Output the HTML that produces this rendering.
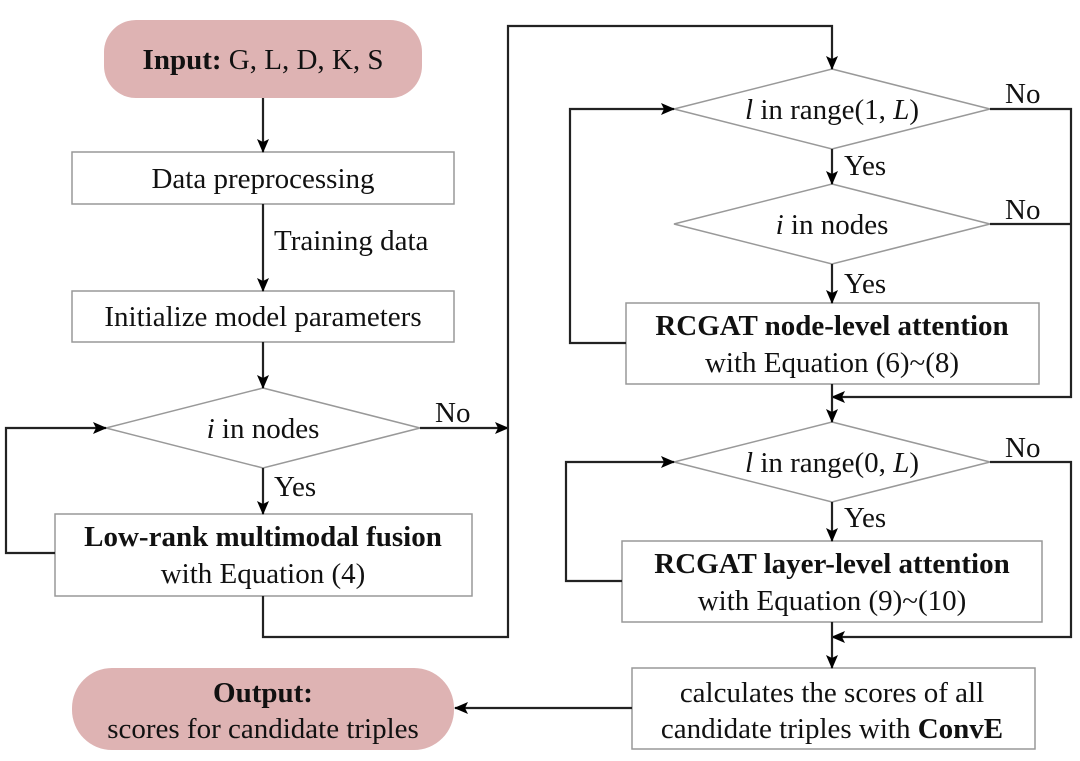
<!DOCTYPE html>
<html><head><meta charset="utf-8"><style>
html,body{margin:0;padding:0;background:#fff}
svg{display:block}
text{font-family:"Liberation Serif",serif;fill:#111}
</style></head><body>
<svg width="1080" height="761" viewBox="0 0 1080 761" xmlns="http://www.w3.org/2000/svg">
<defs>
<marker id="a" markerWidth="14" markerHeight="12" refX="13" refY="6" orient="auto" markerUnits="userSpaceOnUse">
<path d="M0,0 L14,6 L0,12 L3,6 Z" fill="#000"/>
</marker>
</defs>
<g fill="none" stroke="#999" stroke-width="1.5">
<rect x="104" y="20" width="318" height="78" rx="32" fill="#deb3b3" stroke="none"/>
<rect x="72" y="152" width="382" height="52" fill="#fff"/>
<rect x="72" y="291" width="382" height="51" fill="#fff"/>
<polygon points="263,388 420,428 263,468 106,428" fill="#fff"/>
<rect x="55" y="514" width="417" height="82" fill="#fff"/>
<rect x="72" y="668" width="382" height="82" rx="40" fill="#deb3b3" stroke="none"/>
<polygon points="832,69 990,109 832,149 674,109" fill="#fff"/>
<polygon points="832,184 990,224 832,264 674,224" fill="#fff"/>
<rect x="626" y="303" width="413" height="81" fill="#fff"/>
<polygon points="832,422 990,462 832,502 674,462" fill="#fff"/>
<rect x="622" y="541" width="420" height="81" fill="#fff"/>
<rect x="632" y="668" width="403" height="81" fill="#fff"/>
</g>
<g fill="none" stroke="#222" stroke-width="2.2">
<path d="M263,98 V152" marker-end="url(#a)"/>
<path d="M263,204 V291" marker-end="url(#a)"/>
<path d="M263,342 V388" marker-end="url(#a)"/>
<path d="M263,468 V514" marker-end="url(#a)"/>
<path d="M55,553 H6 V428 H106" marker-end="url(#a)"/>
<path d="M420,428 H508" marker-end="url(#a)"/>
<path d="M263,596 V637 H508 V26 H832 V69" marker-end="url(#a)"/>
<path d="M832,149 V184" marker-end="url(#a)"/>
<path d="M832,264 V303" marker-end="url(#a)"/>
<path d="M626,343 H570 V109 H674" marker-end="url(#a)"/>
<path d="M990,109 H1071 V397 H832" marker-end="url(#a)"/>
<path d="M990,224 H1071"/>
<path d="M832,384 V422" marker-end="url(#a)"/>
<path d="M832,502 V541" marker-end="url(#a)"/>
<path d="M622,581 H566 V462 H674" marker-end="url(#a)"/>
<path d="M990,462 H1071 V637 H832" marker-end="url(#a)"/>
<path d="M832,622 V668" marker-end="url(#a)"/>
<path d="M632,708 H455" marker-end="url(#a)"/>
</g>
<g font-size="29" text-anchor="middle">
<text x="263" y="69"><tspan font-weight="bold">Input:</tspan> G, L, D, K, S</text>
<text x="263" y="188">Data preprocessing</text>
<text x="274" y="250" text-anchor="start">Training data</text>
<text x="263" y="326">Initialize model parameters</text>
<text x="263" y="438"><tspan font-style="italic">i</tspan> in nodes</text>
<text x="435" y="422" text-anchor="start">No</text>
<text x="274" y="496" text-anchor="start">Yes</text>
<text x="263" y="546" font-weight="bold">Low-rank multimodal fusion</text>
<text x="263" y="583">with Equation (4)</text>
<text x="263" y="702" font-weight="bold">Output:</text>
<text x="263" y="738">scores for candidate triples</text>
<text x="832" y="119"><tspan font-style="italic">l</tspan> in range(1, <tspan font-style="italic">L</tspan>)</text>
<text x="1005" y="103" text-anchor="start">No</text>
<text x="844" y="175" text-anchor="start">Yes</text>
<text x="832" y="234"><tspan font-style="italic">i</tspan> in nodes</text>
<text x="1005" y="219" text-anchor="start">No</text>
<text x="844" y="293" text-anchor="start">Yes</text>
<text x="832" y="335" font-weight="bold">RCGAT node-level attention</text>
<text x="832" y="372">with Equation (6)~(8)</text>
<text x="832" y="472"><tspan font-style="italic">l</tspan> in range(0, <tspan font-style="italic">L</tspan>)</text>
<text x="1005" y="457" text-anchor="start">No</text>
<text x="844" y="527" text-anchor="start">Yes</text>
<text x="832" y="573" font-weight="bold">RCGAT layer-level attention</text>
<text x="832" y="610">with Equation (9)~(10)</text>
<text x="832" y="702">calculates the scores of all</text>
<text x="832" y="738">candidate triples with <tspan font-weight="bold">ConvE</tspan></text>
</g>
</svg>
</body></html>
